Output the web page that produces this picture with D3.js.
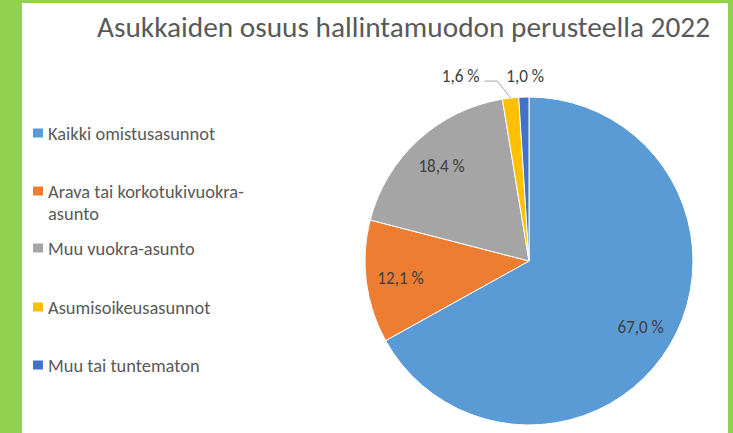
<!DOCTYPE html>
<html>
<head>
<meta charset="utf-8">
<script src="https://cdn.jsdelivr.net/npm/d3@7"></script>
<style>
  body { margin: 0; background: #92D050; }
  svg { display: block; }
</style>
</head>
<body>
<svg class="chart"></svg>
<script>
// Chart data
const categories = ["Kaikki omistusasunnot", "Arava tai korkotukivuokra-asunto", "Muu vuokra-asunto", "Asumisoikeusasunnot", "Muu tai tuntematon"];
const legendLines = [["Kaikki omistusasunnot"], ["Arava tai korkotukivuokra-", "asunto"], ["Muu vuokra-asunto"], ["Asumisoikeusasunnot"], ["Muu tai tuntematon"]];
const values = [67.0, 12.1, 18.4, 1.6, 1.0];
const colors = ["#5B9BD5", "#ED7D31", "#A5A5A5", "#FFC000", "#4472C4"];
const title = "Asukkaiden osuus hallintamuodon perusteella 2022";

const width = 733;
const height = 433;
const font = "Carlito, Calibri, 'Open Sans', sans-serif";
const squeeze = 0.9;        // data labels a bit narrower than the font
const legendSqueeze = 0.97;

const svg = d3.select(".chart")
    .attr("width", width)
    .attr("height", height);

// white panel inside the green frame
svg.append("rect")
    .attr("x", 22).attr("y", 3)
    .attr("width", 706).attr("height", height - 3)
    .attr("fill", "#fff");

// Title
svg.append("text")
    .attr("x", 97).attr("y", 37)
    .attr("font-family", font)
    .attr("font-size", 28)
    .attr("fill", "#595959")
    .attr("textLength", 613)
    .attr("lengthAdjust", "spacingAndGlyphs")
    .text(title);

// Pie
const cx = 529, cy = 261, r = 164;
const pie = d3.pie().sort(null).value(d => d);
const arcs = pie(values);
const arc = d3.arc().innerRadius(0).outerRadius(r);
const labelArc = d3.arc().innerRadius(r * 0.79).outerRadius(r * 0.79);
const edgeArc = d3.arc().innerRadius(r).outerRadius(r);
const outArc = d3.arc().innerRadius(r + 22).outerRadius(r + 22);

const g = svg.append("g").attr("transform", `translate(${cx},${cy})`);

g.selectAll(".slice")
    .data(arcs)
    .enter().append("path")
    .attr("class", "slice")
    .attr("d", arc)
    .attr("fill", (d, i) => colors[i])
    .attr("stroke", "#fff")
    .attr("stroke-width", 1);

const fmt = v => d3.format(".1f")(v).replace(".", ",") + " %";

function label(parent, x, y, anchor, txt) {
    parent.append("g")
        .attr("transform", `translate(${x},${y}) scale(${squeeze},1)`)
        .append("text")
        .attr("text-anchor", anchor)
        .attr("dy", "0.35em")
        .attr("font-family", font)
        .attr("font-size", 19)
        .attr("fill", "#404040")
        .text(txt);
}

// labels inside big slices
arcs.filter(d => d.value > 5).forEach(d => {
    const [x, y] = labelArc.centroid(d);
    label(g, x, y, "middle", fmt(d.value));
});

// small slices: outside labels
const yellow = arcs[3], dark = arcs[4];
const pEdge = edgeArc.centroid(yellow);
const pOut = outArc.centroid(dark);
const lineY = pOut[1] + 6;
g.append("polyline")
    .attr("points", [[pEdge[0], pEdge[1]], [pEdge[0] - 13, lineY], [pEdge[0] - 26, lineY]].map(p => p.join(",")).join(" "))
    .attr("fill", "none")
    .attr("stroke", "#A6A6A6")
    .attr("stroke-width", 1);

label(g, pEdge[0] - 31, pOut[1], "end", fmt(yellow.value));
label(g, pOut[0] + 2, pOut[1], "middle", fmt(dark.value));

// Legend
const legendY = [133, 191, 248, 307, 365];
const legend = svg.selectAll(".legend")
    .data(categories)
    .enter().append("g")
    .attr("class", "legend")
    .attr("transform", (d, i) => `translate(33,${legendY[i]})`);

legend.append("rect")
    .attr("x", 0).attr("y", -4.5)
    .attr("width", 10).attr("height", 9)
    .attr("fill", (d, i) => colors[i]);

legend.each(function(d, i) {
    const t = d3.select(this).append("g")
        .attr("transform", `translate(15,0) scale(${legendSqueeze},1)`)
        .append("text")
        .attr("font-family", font)
        .attr("font-size", 19)
        .attr("fill", "#595959");
    legendLines[i].forEach((line, j) => {
        t.append("tspan")
            .attr("x", 0)
            .attr("y", j * 22)
            .attr("dy", "0.35em")
            .text(line);
    });
});
</script>
</body>
</html>
